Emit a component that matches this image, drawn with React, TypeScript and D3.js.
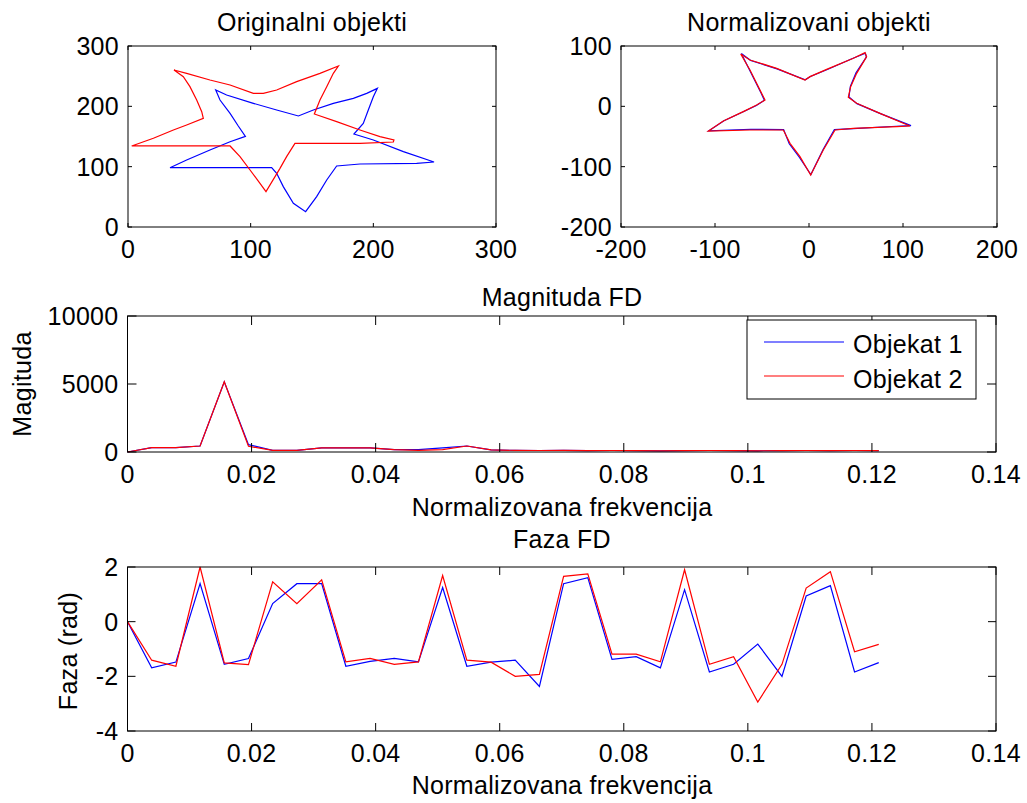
import React from "react";
import * as d3 from "d3";

// ---------- DATA ----------
// Original objects (top-left)
const obj1X = [34.2, 47.8, 66.8, 83.2, 95.7, 89.9, 83.2, 75.0, 71.5, 80.4, 102.2, 121.2, 138.9, 151.1, 167.4, 183.7, 194.6, 203.3, 200.0, 195.9, 191.8, 184.2, 200.0, 224.5, 249.5, 235.3, 189.1, 170.1, 162.0, 153.8, 144.8, 134.8, 126.6, 121.2, 117.1, 34.2];
const obj1Y = [98.3, 111.0, 127.6, 141.4, 150.3, 167.4, 188.4, 210.5, 227.1, 218.8, 205.0, 193.9, 184.0, 193.9, 205.0, 213.3, 221.5, 229.8, 216.0, 193.9, 171.8, 154.1, 144.2, 124.9, 107.7, 105.5, 104.4, 101.1, 77.9, 50.3, 25.4, 39.2, 66.9, 89.0, 98.3, 98.3];
const obj2X = [3.0, 20.7, 37.0, 47.8, 61.4, 60.1, 56.0, 50.5, 45.1, 37.5, 47.8, 66.8, 83.2, 102.2, 110.3, 121.2, 137.5, 156.5, 171.5, 167.4, 162.0, 156.5, 151.9, 170.1, 189.1, 205.4, 216.8, 216.3, 189.1, 136.1, 129.3, 123.9, 112.5, 107.6, 99.5, 91.3, 83.2, 3.0];
const obj2Y = [134.3, 147.0, 160.8, 169.1, 180.1, 191.2, 210.5, 232.6, 249.2, 260.2, 254.7, 243.6, 235.4, 221.5, 221.5, 227.1, 240.9, 254.7, 266.9, 254.7, 232.6, 210.5, 187.3, 174.6, 160.8, 149.7, 144.2, 140.9, 138.7, 138.7, 116.6, 97.2, 58.6, 72.4, 94.5, 116.6, 134.3, 134.3];

// Normalized objects (top-right)
const norm1X = [-72.0, -62.0, -34.0, -4.0, 1.5, 19.5, 47.5, 60.0, 61.0, 50.0, 44.0, 42.5, 51.0, 76.0, 108.5, 93.0, 47.0, 27.0, 15.0, 2.0, -10.5, -21.0, -27.0, -62.0, -106.5, -90.5, -70.5, -56.0, -47.5, -51.0, -63.5, -72.0];
const norm1Y = [87.5, 76.0, 62.0, 44.0, 49.5, 61.0, 80.0, 88.0, 81.5, 55.5, 33.0, 15.5, 4.5, -12.0, -32.0, -33.0, -37.0, -38.5, -71.5, -113.0, -84.0, -62.0, -38.5, -38.0, -40.5, -24.0, -9.5, 1.5, 10.0, 22.0, 61.0, 87.5];
const norm2X = [-72.7, -62.8, -34.4, -4.3, 1.1, 18.8, 47.2, 59.6, 61.3, 50.7, 44.3, 41.8, 50.7, 75.5, 107.4, 93.3, 47.2, 27.7, 15.2, 1.8, -9.6, -20.2, -27.3, -62.8, -107.1, -91.1, -69.9, -55.7, -46.8, -50.4, -62.8, -72.7];
const norm2Y = [86.7, 76.8, 63.0, 43.6, 49.2, 61.3, 79.6, 89.0, 82.3, 54.7, 32.6, 14.9, 5.0, -11.6, -32.6, -33.7, -36.5, -39.2, -72.4, -113.8, -83.4, -61.3, -39.2, -39.2, -40.9, -24.3, -8.8, 2.2, 10.5, 21.5, 60.2, 86.7];

// Fourier descriptors
const freq = [0, 0.0039, 0.0078, 0.0117, 0.0156, 0.0195, 0.0234, 0.0273, 0.0313, 0.0352, 0.0391, 0.043, 0.0469, 0.0508, 0.0547, 0.0586, 0.0625, 0.0664, 0.0703, 0.0742, 0.0781, 0.082, 0.0859, 0.0898, 0.0938, 0.0977, 0.1016, 0.1055, 0.1094, 0.1133, 0.1172, 0.1211];
const mag1 = [0, 320, 320, 440, 5160, 540, 120, 120, 300, 300, 300, 170, 170, 300, 440, 150, 120, 110, 120, 100, 110, 100, 90, 100, 110, 100, 90, 100, 110, 100, 110, 100];
const mag2 = [0, 320, 320, 440, 5160, 420, 120, 120, 300, 300, 300, 170, 120, 170, 440, 150, 120, 110, 120, 100, 110, 100, 90, 100, 110, 100, 90, 100, 110, 100, 110, 100];
const phase1 = [0, -1.69, -1.48, 1.39, -1.56, -1.35, 0.66, 1.39, 1.39, -1.63, -1.45, -1.34, -1.47, 1.25, -1.63, -1.48, -1.41, -2.37, 1.39, 1.61, -1.38, -1.28, -1.69, 1.17, -1.84, -1.56, -0.82, -2.0, 0.94, 1.32, -1.84, -1.5];
const phase2 = [0, -1.41, -1.63, 2.0, -1.51, -1.57, 1.46, 0.66, 1.53, -1.47, -1.34, -1.56, -1.47, 1.69, -1.41, -1.48, -2.0, -1.93, 1.66, 1.75, -1.19, -1.19, -1.47, 1.9, -1.56, -1.28, -2.94, -1.56, 1.23, 1.83, -1.1, -0.83];

const topXTicks = [0, 100, 200, 300];
const topYTicks = [0, 100, 200, 300];
const normXTicks = [-200, -100, 0, 100, 200];
const normYTicks = [-200, -100, 0, 100];
const freqTicks = [0, 0.02, 0.04, 0.06, 0.08, 0.1, 0.12, 0.14];
const magTicks = [0, 5000, 10000];
const phaseTicks = [-4, -2, 0, 2];
const legendLabels = ["Objekat 1", "Objekat 2"];

const FONT = "'Liberation Sans', Arial, Helvetica, sans-serif";
const FS = 25;
const LS = 0.3;
const BLUE = "#0000ff";
const RED = "#ff0000";

type AxProps = {
  left: number; top: number; width: number; height: number;
  x: d3.ScaleLinear<number, number>; y: d3.ScaleLinear<number, number>;
  xTicks: number[]; yTicks: number[]; tick: number;
  children?: React.ReactNode;
};

function fmt(v: number) {
  return String(+v.toFixed(4));
}

function T(props: any) {
  return <text fontSize={FS} fontFamily={FONT} letterSpacing={LS} fill="#000" {...props} />;
}

function Axes({ left, top, width, height, x, y, xTicks, yTicks, tick, children }: AxProps) {
  const bottom = top + height;
  const right = left + width;
  return (
    <g>
      {children}
      <rect x={left} y={top} width={width} height={height} fill="none" stroke="#000" strokeWidth={1} />
      {xTicks.map((t) => (
        <g key={"x" + t}>
          <line x1={x(t)} x2={x(t)} y1={bottom} y2={bottom - tick} stroke="#000" />
          <line x1={x(t)} x2={x(t)} y1={top} y2={top + tick} stroke="#000" />
          <T x={x(t)} y={bottom + 31} textAnchor="middle">{fmt(t)}</T>
        </g>
      ))}
      {yTicks.map((t) => (
        <g key={"y" + t}>
          <line x1={left} x2={left + tick} y1={y(t)} y2={y(t)} stroke="#000" />
          <line x1={right} x2={right - tick} y1={y(t)} y2={y(t)} stroke="#000" />
          <T x={left - 9} y={y(t) + 9} textAnchor="end">{fmt(t)}</T>
        </g>
      ))}
    </g>
  );
}

function pathXY(xs: number[], ys: number[], sx: d3.ScaleLinear<number, number>, sy: d3.ScaleLinear<number, number>) {
  const pts: [number, number][] = xs.map((v, i) => [v, ys[i]]);
  return d3.line<[number, number]>().x((d) => sx(d[0])).y((d) => sy(d[1]))(pts) || "";
}

export default function App() {
  const tlX = d3.scaleLinear().domain([0, 300]).range([128, 496]);
  const tlY = d3.scaleLinear().domain([0, 300]).range([227, 46]);
  const trX = d3.scaleLinear().domain([-200, 200]).range([621, 997]);
  const trY = d3.scaleLinear().domain([-200, 100]).range([227, 46]);
  const mX = d3.scaleLinear().domain([0, 0.14]).range([127.5, 996]);
  const mY = d3.scaleLinear().domain([0, 10000]).range([452, 316]);
  const bX = d3.scaleLinear().domain([0, 0.14]).range([127.5, 996]);
  const bY = d3.scaleLinear().domain([-4, 2]).range([731, 567]);

  const lw = 1.2;

  return (
    <svg width={1027} height={803} style={{ position: "absolute", left: 0, top: 0, background: "#fff" }}>
      <rect x={0} y={0} width={1027} height={803} fill="#fff" />
      {/* Top-left */}
      <Axes left={128} top={46} width={368} height={181} x={tlX} y={tlY} xTicks={topXTicks} yTicks={topYTicks} tick={4}>
        <path d={pathXY(obj1X, obj1Y, tlX, tlY)} fill="none" stroke={BLUE} strokeWidth={lw} />
        <path d={pathXY(obj2X, obj2Y, tlX, tlY)} fill="none" stroke={RED} strokeWidth={lw} />
      </Axes>
      <T x={312} y={31} textAnchor="middle">Originalni objekti</T>

      {/* Top-right */}
      <Axes left={621} top={46} width={376} height={181} x={trX} y={trY} xTicks={normXTicks} yTicks={normYTicks} tick={4}>
        <path d={pathXY(norm1X, norm1Y, trX, trY)} fill="none" stroke={BLUE} strokeWidth={lw} />
        <path d={pathXY(norm2X, norm2Y, trX, trY)} fill="none" stroke={RED} strokeWidth={lw} />
      </Axes>
      <T x={809} y={31} textAnchor="middle">Normalizovani objekti</T>

      {/* Middle */}
      <Axes left={127.5} top={316} width={868.5} height={136} x={mX} y={mY} xTicks={freqTicks} yTicks={magTicks} tick={9}>
        <path d={pathXY(freq, mag1, mX, mY)} fill="none" stroke={BLUE} strokeWidth={lw} />
        <path d={pathXY(freq, mag2, mX, mY)} fill="none" stroke={RED} strokeWidth={lw} />
      </Axes>
      <T x={562} y={306} textAnchor="middle">Magnituda FD</T>
      <T x={562} y={516} textAnchor="middle">Normalizovana frekvencija</T>
      <T transform="translate(31,384) rotate(-90)" textAnchor="middle">Magituda</T>
      {/* Legend */}
      <g>
        <rect x={747} y={320} width={229} height={79} fill="#fff" stroke="#000" strokeWidth={1} />
        <line x1={764} x2={844} y1={342} y2={342} stroke={BLUE} strokeWidth={lw} />
        <line x1={764} x2={844} y1={376} y2={376} stroke={RED} strokeWidth={lw} />
        <T x={853} y={353}>{legendLabels[0]}</T>
        <T x={853} y={388}>{legendLabels[1]}</T>
      </g>

      {/* Bottom */}
      <Axes left={127.5} top={567} width={868.5} height={164} x={bX} y={bY} xTicks={freqTicks} yTicks={phaseTicks} tick={8}>
        <path d={pathXY(freq, phase1, bX, bY)} fill="none" stroke={BLUE} strokeWidth={lw} />
        <path d={pathXY(freq, phase2, bX, bY)} fill="none" stroke={RED} strokeWidth={lw} />
      </Axes>
      <T x={562} y={548} textAnchor="middle">Faza FD</T>
      <T x={562} y={794} textAnchor="middle">Normalizovana frekvencija</T>
      <T transform="translate(77,651) rotate(-90)" textAnchor="middle">Faza (rad)</T>
    </svg>
  );
}
